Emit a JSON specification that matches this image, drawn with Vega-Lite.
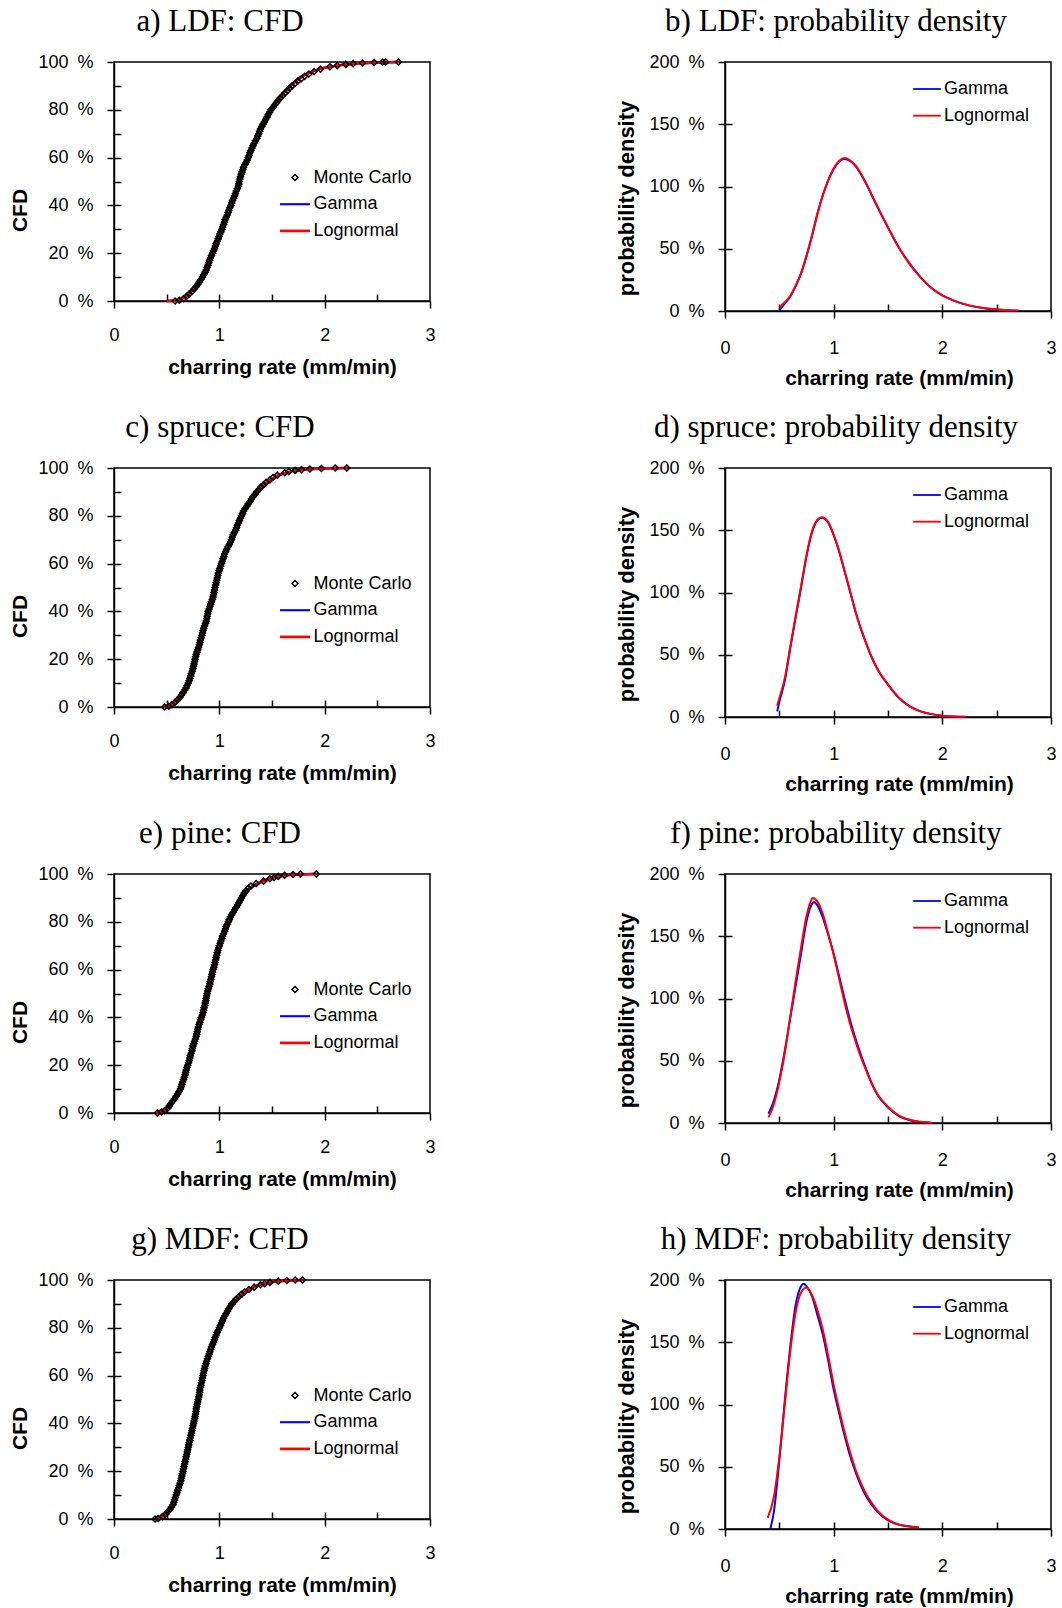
{
"$schema":"https://vega.github.io/schema/vega-lite/v6.json",
"autosize":{"type":"none"},
"padding":{"left":114,"top":62,"right":948,"bottom":1546},
"background":"white",
"columns":2,"bounds":"flush","align":"each",
"spacing":{"row":157,"column":295},
"resolve":{"scale":{"color":"independent","shape":"independent","strokeWidth":"independent"},"legend":{"color":"independent","shape":"independent","strokeWidth":"independent"}},
"config":{
 "view":{"stroke":"black","strokeWidth":1.5},
 "font":"Liberation Sans",
 "axis":{"domainColor":"black","domainWidth":1.5,"tickColor":"black","tickWidth":1.5,"labelColor":"black","labelFont":"Liberation Sans","labelFontSize":18,"titleFont":"Liberation Sans","titleFontSize":21,"titleFontWeight":"bold","titleColor":"black","grid":false,"labelFlush":false,"labelOverlap":false},
 "title":{"font":"Liberation Serif","fontSize":31,"fontWeight":"normal","color":"black","anchor":"middle","frame":"group","dx":-52,"baseline":"alphabetic","offset":15},
 "legend":{"labelFont":"Liberation Sans","labelFontSize":18,"labelColor":"black","padding":0}
},
"datasets":{
"aLine":[
{"s":"Gamma","x":0.5,"y":0},{"s":"Gamma","x":0.6,"y":0.3},{"s":"Gamma","x":0.7,"y":2.5},{"s":"Gamma","x":0.8,"y":7.5},{"s":"Gamma","x":0.9,"y":16.5},{"s":"Gamma","x":1.0,"y":27},{"s":"Gamma","x":1.1,"y":39},{"s":"Gamma","x":1.2,"y":51},{"s":"Gamma","x":1.3,"y":62.5},{"s":"Gamma","x":1.4,"y":72.5},{"s":"Gamma","x":1.5,"y":80.5},{"s":"Gamma","x":1.6,"y":86.5},{"s":"Gamma","x":1.7,"y":91},{"s":"Gamma","x":1.8,"y":94.3},{"s":"Gamma","x":1.9,"y":96.3},{"s":"Gamma","x":2.0,"y":97.6},{"s":"Gamma","x":2.2,"y":99},{"s":"Gamma","x":2.4,"y":99.6},{"s":"Gamma","x":2.7,"y":100},
{"s":"Lognormal","x":0.5,"y":0},{"s":"Lognormal","x":0.6,"y":0.3},{"s":"Lognormal","x":0.7,"y":2.5},{"s":"Lognormal","x":0.8,"y":7.5},{"s":"Lognormal","x":0.9,"y":16.5},{"s":"Lognormal","x":1.0,"y":27},{"s":"Lognormal","x":1.1,"y":39},{"s":"Lognormal","x":1.2,"y":51},{"s":"Lognormal","x":1.3,"y":62.5},{"s":"Lognormal","x":1.4,"y":72.5},{"s":"Lognormal","x":1.5,"y":80.5},{"s":"Lognormal","x":1.6,"y":86.5},{"s":"Lognormal","x":1.7,"y":91},{"s":"Lognormal","x":1.8,"y":94.3},{"s":"Lognormal","x":1.9,"y":96.3},{"s":"Lognormal","x":2.0,"y":97.6},{"s":"Lognormal","x":2.2,"y":99},{"s":"Lognormal","x":2.4,"y":99.6},{"s":"Lognormal","x":2.7,"y":100}],
"aMC":[
{"s":"Monte Carlo","x":0.58,"y":0},{"s":"Monte Carlo","x":0.62,"y":0.3},{"s":"Monte Carlo","x":0.66,"y":1},{"s":"Monte Carlo","x":0.69,"y":2},{"s":"Monte Carlo","x":0.715,"y":3},{"s":"Monte Carlo","x":0.74,"y":4},{"s":"Monte Carlo","x":0.76,"y":5},{"s":"Monte Carlo","x":0.78,"y":6},{"s":"Monte Carlo","x":0.795,"y":7},{"s":"Monte Carlo","x":0.81,"y":8},{"s":"Monte Carlo","x":0.825,"y":9},{"s":"Monte Carlo","x":0.84,"y":10},{"s":"Monte Carlo","x":0.853,"y":11},{"s":"Monte Carlo","x":0.865,"y":12},{"s":"Monte Carlo","x":0.875,"y":13},{"s":"Monte Carlo","x":0.885,"y":14},{"s":"Monte Carlo","x":0.893,"y":15},{"s":"Monte Carlo","x":0.9,"y":16},{"s":"Monte Carlo","x":0.908,"y":17},{"s":"Monte Carlo","x":0.915,"y":18},{"s":"Monte Carlo","x":0.925,"y":19},{"s":"Monte Carlo","x":0.935,"y":20},{"s":"Monte Carlo","x":0.945,"y":21},{"s":"Monte Carlo","x":0.955,"y":22},{"s":"Monte Carlo","x":0.962,"y":23},{"s":"Monte Carlo","x":0.97,"y":24},{"s":"Monte Carlo","x":0.98,"y":25},{"s":"Monte Carlo","x":0.99,"y":26},{"s":"Monte Carlo","x":0.998,"y":27},{"s":"Monte Carlo","x":1.005,"y":28},{"s":"Monte Carlo","x":1.015,"y":29},{"s":"Monte Carlo","x":1.025,"y":30},{"s":"Monte Carlo","x":1.032,"y":31},{"s":"Monte Carlo","x":1.04,"y":32},{"s":"Monte Carlo","x":1.048,"y":33},{"s":"Monte Carlo","x":1.055,"y":34},{"s":"Monte Carlo","x":1.065,"y":35},{"s":"Monte Carlo","x":1.075,"y":36},{"s":"Monte Carlo","x":1.083,"y":37},{"s":"Monte Carlo","x":1.09,"y":38},{"s":"Monte Carlo","x":1.1,"y":39},{"s":"Monte Carlo","x":1.11,"y":40},{"s":"Monte Carlo","x":1.118,"y":41},{"s":"Monte Carlo","x":1.125,"y":42},{"s":"Monte Carlo","x":1.135,"y":43},{"s":"Monte Carlo","x":1.145,"y":44},{"s":"Monte Carlo","x":1.153,"y":45},{"s":"Monte Carlo","x":1.16,"y":46},{"s":"Monte Carlo","x":1.17,"y":47},{"s":"Monte Carlo","x":1.18,"y":48},{"s":"Monte Carlo","x":1.185,"y":49},{"s":"Monte Carlo","x":1.19,"y":50},{"s":"Monte Carlo","x":1.195,"y":51},{"s":"Monte Carlo","x":1.2,"y":52},{"s":"Monte Carlo","x":1.208,"y":53},{"s":"Monte Carlo","x":1.215,"y":54},{"s":"Monte Carlo","x":1.222,"y":55},{"s":"Monte Carlo","x":1.23,"y":56},{"s":"Monte Carlo","x":1.243,"y":57},{"s":"Monte Carlo","x":1.255,"y":58},{"s":"Monte Carlo","x":1.265,"y":59},{"s":"Monte Carlo","x":1.275,"y":60},{"s":"Monte Carlo","x":1.283,"y":61},{"s":"Monte Carlo","x":1.29,"y":62},{"s":"Monte Carlo","x":1.3,"y":63},{"s":"Monte Carlo","x":1.31,"y":64},{"s":"Monte Carlo","x":1.32,"y":65},{"s":"Monte Carlo","x":1.33,"y":66},{"s":"Monte Carlo","x":1.343,"y":67},{"s":"Monte Carlo","x":1.355,"y":68},{"s":"Monte Carlo","x":1.365,"y":69},{"s":"Monte Carlo","x":1.375,"y":70},{"s":"Monte Carlo","x":1.383,"y":71},{"s":"Monte Carlo","x":1.39,"y":72},{"s":"Monte Carlo","x":1.403,"y":73},{"s":"Monte Carlo","x":1.415,"y":74},{"s":"Monte Carlo","x":1.428,"y":75},{"s":"Monte Carlo","x":1.44,"y":76},{"s":"Monte Carlo","x":1.453,"y":77},{"s":"Monte Carlo","x":1.465,"y":78},{"s":"Monte Carlo","x":1.478,"y":79},{"s":"Monte Carlo","x":1.49,"y":80},{"s":"Monte Carlo","x":1.508,"y":81},{"s":"Monte Carlo","x":1.525,"y":82},{"s":"Monte Carlo","x":1.543,"y":83},{"s":"Monte Carlo","x":1.56,"y":84},{"s":"Monte Carlo","x":1.58,"y":85},{"s":"Monte Carlo","x":1.6,"y":86},{"s":"Monte Carlo","x":1.623,"y":87},{"s":"Monte Carlo","x":1.645,"y":88},{"s":"Monte Carlo","x":1.668,"y":89},{"s":"Monte Carlo","x":1.69,"y":90},{"s":"Monte Carlo","x":1.718,"y":91},{"s":"Monte Carlo","x":1.745,"y":92},{"s":"Monte Carlo","x":1.778,"y":93},{"s":"Monte Carlo","x":1.81,"y":94},{"s":"Monte Carlo","x":1.85,"y":95},{"s":"Monte Carlo","x":1.9,"y":96},{"s":"Monte Carlo","x":1.96,"y":97},{"s":"Monte Carlo","x":2.05,"y":98},{"s":"Monte Carlo","x":2.12,"y":98.5},{"s":"Monte Carlo","x":2.2,"y":99},{"s":"Monte Carlo","x":2.27,"y":99.3},{"s":"Monte Carlo","x":2.36,"y":99.6},{"s":"Monte Carlo","x":2.47,"y":99.8},{"s":"Monte Carlo","x":2.55,"y":99.9},{"s":"Monte Carlo","x":2.58,"y":100},{"s":"Monte Carlo","x":2.7,"y":100}],
"cLine":[
{"s":"Gamma","x":0.47,"y":0},{"s":"Gamma","x":0.55,"y":1},{"s":"Gamma","x":0.6,"y":2.8},{"s":"Gamma","x":0.65,"y":5.5},{"s":"Gamma","x":0.7,"y":9.8},{"s":"Gamma","x":0.75,"y":15.5},{"s":"Gamma","x":0.8,"y":24.5},{"s":"Gamma","x":0.85,"y":31.5},{"s":"Gamma","x":0.9,"y":40.5},{"s":"Gamma","x":0.95,"y":48.5},{"s":"Gamma","x":1.0,"y":57},{"s":"Gamma","x":1.1,"y":68.5},{"s":"Gamma","x":1.2,"y":79},{"s":"Gamma","x":1.3,"y":87},{"s":"Gamma","x":1.4,"y":92.2},{"s":"Gamma","x":1.5,"y":95.5},{"s":"Gamma","x":1.6,"y":97.6},{"s":"Gamma","x":1.7,"y":98.8},{"s":"Gamma","x":1.85,"y":99.5},{"s":"Gamma","x":2.0,"y":99.8},{"s":"Gamma","x":2.21,"y":100},
{"s":"Lognormal","x":0.47,"y":0},{"s":"Lognormal","x":0.55,"y":1},{"s":"Lognormal","x":0.6,"y":2.8},{"s":"Lognormal","x":0.65,"y":5.5},{"s":"Lognormal","x":0.7,"y":9.8},{"s":"Lognormal","x":0.75,"y":15.5},{"s":"Lognormal","x":0.8,"y":24.5},{"s":"Lognormal","x":0.85,"y":31.5},{"s":"Lognormal","x":0.9,"y":40.5},{"s":"Lognormal","x":0.95,"y":48.5},{"s":"Lognormal","x":1.0,"y":57},{"s":"Lognormal","x":1.1,"y":68.5},{"s":"Lognormal","x":1.2,"y":79},{"s":"Lognormal","x":1.3,"y":87},{"s":"Lognormal","x":1.4,"y":92.2},{"s":"Lognormal","x":1.5,"y":95.5},{"s":"Lognormal","x":1.6,"y":97.6},{"s":"Lognormal","x":1.7,"y":98.8},{"s":"Lognormal","x":1.85,"y":99.5},{"s":"Lognormal","x":2.0,"y":99.8},{"s":"Lognormal","x":2.21,"y":100}],
"cMC":[
{"s":"Monte Carlo","x":0.48,"y":0},{"s":"Monte Carlo","x":0.52,"y":0.3},{"s":"Monte Carlo","x":0.55,"y":1},{"s":"Monte Carlo","x":0.58,"y":2},{"s":"Monte Carlo","x":0.603,"y":3},{"s":"Monte Carlo","x":0.625,"y":4},{"s":"Monte Carlo","x":0.64,"y":5},{"s":"Monte Carlo","x":0.655,"y":6},{"s":"Monte Carlo","x":0.67,"y":7},{"s":"Monte Carlo","x":0.685,"y":8},{"s":"Monte Carlo","x":0.695,"y":9},{"s":"Monte Carlo","x":0.705,"y":10},{"s":"Monte Carlo","x":0.713,"y":11},{"s":"Monte Carlo","x":0.72,"y":12},{"s":"Monte Carlo","x":0.728,"y":13},{"s":"Monte Carlo","x":0.735,"y":14},{"s":"Monte Carlo","x":0.743,"y":15},{"s":"Monte Carlo","x":0.75,"y":16},{"s":"Monte Carlo","x":0.755,"y":17},{"s":"Monte Carlo","x":0.76,"y":18},{"s":"Monte Carlo","x":0.765,"y":19},{"s":"Monte Carlo","x":0.77,"y":20},{"s":"Monte Carlo","x":0.775,"y":21},{"s":"Monte Carlo","x":0.78,"y":22},{"s":"Monte Carlo","x":0.788,"y":23},{"s":"Monte Carlo","x":0.795,"y":24},{"s":"Monte Carlo","x":0.803,"y":25},{"s":"Monte Carlo","x":0.81,"y":26},{"s":"Monte Carlo","x":0.815,"y":27},{"s":"Monte Carlo","x":0.82,"y":28},{"s":"Monte Carlo","x":0.828,"y":29},{"s":"Monte Carlo","x":0.835,"y":30},{"s":"Monte Carlo","x":0.84,"y":31},{"s":"Monte Carlo","x":0.845,"y":32},{"s":"Monte Carlo","x":0.853,"y":33},{"s":"Monte Carlo","x":0.86,"y":34},{"s":"Monte Carlo","x":0.868,"y":35},{"s":"Monte Carlo","x":0.875,"y":36},{"s":"Monte Carlo","x":0.88,"y":37},{"s":"Monte Carlo","x":0.885,"y":38},{"s":"Monte Carlo","x":0.89,"y":39},{"s":"Monte Carlo","x":0.895,"y":40},{"s":"Monte Carlo","x":0.903,"y":41},{"s":"Monte Carlo","x":0.91,"y":42},{"s":"Monte Carlo","x":0.918,"y":43},{"s":"Monte Carlo","x":0.925,"y":44},{"s":"Monte Carlo","x":0.933,"y":45},{"s":"Monte Carlo","x":0.94,"y":46},{"s":"Monte Carlo","x":0.945,"y":47},{"s":"Monte Carlo","x":0.95,"y":48},{"s":"Monte Carlo","x":0.955,"y":49},{"s":"Monte Carlo","x":0.96,"y":50},{"s":"Monte Carlo","x":0.965,"y":51},{"s":"Monte Carlo","x":0.97,"y":52},{"s":"Monte Carlo","x":0.975,"y":53},{"s":"Monte Carlo","x":0.98,"y":54},{"s":"Monte Carlo","x":0.985,"y":55},{"s":"Monte Carlo","x":0.99,"y":56},{"s":"Monte Carlo","x":0.998,"y":57},{"s":"Monte Carlo","x":1.005,"y":58},{"s":"Monte Carlo","x":1.013,"y":59},{"s":"Monte Carlo","x":1.02,"y":60},{"s":"Monte Carlo","x":1.028,"y":61},{"s":"Monte Carlo","x":1.035,"y":62},{"s":"Monte Carlo","x":1.043,"y":63},{"s":"Monte Carlo","x":1.05,"y":64},{"s":"Monte Carlo","x":1.06,"y":65},{"s":"Monte Carlo","x":1.07,"y":66},{"s":"Monte Carlo","x":1.083,"y":67},{"s":"Monte Carlo","x":1.095,"y":68},{"s":"Monte Carlo","x":1.105,"y":69},{"s":"Monte Carlo","x":1.115,"y":70},{"s":"Monte Carlo","x":1.123,"y":71},{"s":"Monte Carlo","x":1.13,"y":72},{"s":"Monte Carlo","x":1.143,"y":73},{"s":"Monte Carlo","x":1.155,"y":74},{"s":"Monte Carlo","x":1.163,"y":75},{"s":"Monte Carlo","x":1.17,"y":76},{"s":"Monte Carlo","x":1.18,"y":77},{"s":"Monte Carlo","x":1.19,"y":78},{"s":"Monte Carlo","x":1.2,"y":79},{"s":"Monte Carlo","x":1.21,"y":80},{"s":"Monte Carlo","x":1.22,"y":81},{"s":"Monte Carlo","x":1.23,"y":82},{"s":"Monte Carlo","x":1.245,"y":83},{"s":"Monte Carlo","x":1.26,"y":84},{"s":"Monte Carlo","x":1.275,"y":85},{"s":"Monte Carlo","x":1.29,"y":86},{"s":"Monte Carlo","x":1.305,"y":87},{"s":"Monte Carlo","x":1.32,"y":88},{"s":"Monte Carlo","x":1.338,"y":89},{"s":"Monte Carlo","x":1.355,"y":90},{"s":"Monte Carlo","x":1.375,"y":91},{"s":"Monte Carlo","x":1.395,"y":92},{"s":"Monte Carlo","x":1.42,"y":93},{"s":"Monte Carlo","x":1.445,"y":94},{"s":"Monte Carlo","x":1.48,"y":95},{"s":"Monte Carlo","x":1.51,"y":96},{"s":"Monte Carlo","x":1.55,"y":97},{"s":"Monte Carlo","x":1.62,"y":98},{"s":"Monte Carlo","x":1.66,"y":98.5},{"s":"Monte Carlo","x":1.72,"y":99},{"s":"Monte Carlo","x":1.78,"y":99.3},{"s":"Monte Carlo","x":1.86,"y":99.6},{"s":"Monte Carlo","x":1.97,"y":99.8},{"s":"Monte Carlo","x":2.1,"y":100},{"s":"Monte Carlo","x":2.21,"y":100}],
"eLine":[
{"s":"Gamma","x":0.4,"y":0},{"s":"Gamma","x":0.45,"y":0.4},{"s":"Gamma","x":0.5,"y":1.8},{"s":"Gamma","x":0.55,"y":5},{"s":"Gamma","x":0.6,"y":8.5},{"s":"Gamma","x":0.65,"y":13.5},{"s":"Gamma","x":0.7,"y":20},{"s":"Gamma","x":0.75,"y":28.5},{"s":"Gamma","x":0.8,"y":36},{"s":"Gamma","x":0.85,"y":43},{"s":"Gamma","x":0.9,"y":52},{"s":"Gamma","x":0.95,"y":61},{"s":"Gamma","x":1.0,"y":70},{"s":"Gamma","x":1.05,"y":76.5},{"s":"Gamma","x":1.1,"y":81.5},{"s":"Gamma","x":1.15,"y":85.5},{"s":"Gamma","x":1.2,"y":89.5},{"s":"Gamma","x":1.25,"y":92.5},{"s":"Gamma","x":1.3,"y":94.5},{"s":"Gamma","x":1.4,"y":96.8},{"s":"Gamma","x":1.5,"y":98.3},{"s":"Gamma","x":1.6,"y":99.3},{"s":"Gamma","x":1.7,"y":99.7},{"s":"Gamma","x":1.9,"y":100},
{"s":"Lognormal","x":0.4,"y":0},{"s":"Lognormal","x":0.45,"y":0.4},{"s":"Lognormal","x":0.5,"y":1.8},{"s":"Lognormal","x":0.55,"y":5},{"s":"Lognormal","x":0.6,"y":8.5},{"s":"Lognormal","x":0.65,"y":13.5},{"s":"Lognormal","x":0.7,"y":20},{"s":"Lognormal","x":0.75,"y":28.5},{"s":"Lognormal","x":0.8,"y":36},{"s":"Lognormal","x":0.85,"y":43},{"s":"Lognormal","x":0.9,"y":52},{"s":"Lognormal","x":0.95,"y":61},{"s":"Lognormal","x":1.0,"y":70},{"s":"Lognormal","x":1.05,"y":76.5},{"s":"Lognormal","x":1.1,"y":81.5},{"s":"Lognormal","x":1.15,"y":85.5},{"s":"Lognormal","x":1.2,"y":89},{"s":"Lognormal","x":1.25,"y":92},{"s":"Lognormal","x":1.3,"y":94.2},{"s":"Lognormal","x":1.4,"y":96.6},{"s":"Lognormal","x":1.5,"y":98.2},{"s":"Lognormal","x":1.6,"y":99.2},{"s":"Lognormal","x":1.7,"y":99.7},{"s":"Lognormal","x":1.9,"y":100}],
"eMC":[
{"s":"Monte Carlo","x":0.41,"y":0},{"s":"Monte Carlo","x":0.45,"y":0.4},{"s":"Monte Carlo","x":0.48,"y":1},{"s":"Monte Carlo","x":0.51,"y":2},{"s":"Monte Carlo","x":0.525,"y":3},{"s":"Monte Carlo","x":0.54,"y":4},{"s":"Monte Carlo","x":0.558,"y":5},{"s":"Monte Carlo","x":0.575,"y":6},{"s":"Monte Carlo","x":0.59,"y":7},{"s":"Monte Carlo","x":0.605,"y":8},{"s":"Monte Carlo","x":0.618,"y":9},{"s":"Monte Carlo","x":0.63,"y":10},{"s":"Monte Carlo","x":0.638,"y":11},{"s":"Monte Carlo","x":0.645,"y":12},{"s":"Monte Carlo","x":0.653,"y":13},{"s":"Monte Carlo","x":0.66,"y":14},{"s":"Monte Carlo","x":0.668,"y":15},{"s":"Monte Carlo","x":0.675,"y":16},{"s":"Monte Carlo","x":0.68,"y":17},{"s":"Monte Carlo","x":0.685,"y":18},{"s":"Monte Carlo","x":0.693,"y":19},{"s":"Monte Carlo","x":0.7,"y":20},{"s":"Monte Carlo","x":0.708,"y":21},{"s":"Monte Carlo","x":0.715,"y":22},{"s":"Monte Carlo","x":0.72,"y":23},{"s":"Monte Carlo","x":0.725,"y":24},{"s":"Monte Carlo","x":0.733,"y":25},{"s":"Monte Carlo","x":0.74,"y":26},{"s":"Monte Carlo","x":0.745,"y":27},{"s":"Monte Carlo","x":0.75,"y":28},{"s":"Monte Carlo","x":0.758,"y":29},{"s":"Monte Carlo","x":0.765,"y":30},{"s":"Monte Carlo","x":0.773,"y":31},{"s":"Monte Carlo","x":0.78,"y":32},{"s":"Monte Carlo","x":0.785,"y":33},{"s":"Monte Carlo","x":0.79,"y":34},{"s":"Monte Carlo","x":0.795,"y":35},{"s":"Monte Carlo","x":0.8,"y":36},{"s":"Monte Carlo","x":0.808,"y":37},{"s":"Monte Carlo","x":0.815,"y":38},{"s":"Monte Carlo","x":0.823,"y":39},{"s":"Monte Carlo","x":0.83,"y":40},{"s":"Monte Carlo","x":0.838,"y":41},{"s":"Monte Carlo","x":0.845,"y":42},{"s":"Monte Carlo","x":0.85,"y":43},{"s":"Monte Carlo","x":0.855,"y":44},{"s":"Monte Carlo","x":0.86,"y":45},{"s":"Monte Carlo","x":0.865,"y":46},{"s":"Monte Carlo","x":0.87,"y":47},{"s":"Monte Carlo","x":0.875,"y":48},{"s":"Monte Carlo","x":0.88,"y":49},{"s":"Monte Carlo","x":0.885,"y":50},{"s":"Monte Carlo","x":0.89,"y":51},{"s":"Monte Carlo","x":0.895,"y":52},{"s":"Monte Carlo","x":0.903,"y":53},{"s":"Monte Carlo","x":0.91,"y":54},{"s":"Monte Carlo","x":0.915,"y":55},{"s":"Monte Carlo","x":0.92,"y":56},{"s":"Monte Carlo","x":0.925,"y":57},{"s":"Monte Carlo","x":0.93,"y":58},{"s":"Monte Carlo","x":0.935,"y":59},{"s":"Monte Carlo","x":0.94,"y":60},{"s":"Monte Carlo","x":0.948,"y":61},{"s":"Monte Carlo","x":0.955,"y":62},{"s":"Monte Carlo","x":0.96,"y":63},{"s":"Monte Carlo","x":0.965,"y":64},{"s":"Monte Carlo","x":0.97,"y":65},{"s":"Monte Carlo","x":0.975,"y":66},{"s":"Monte Carlo","x":0.98,"y":67},{"s":"Monte Carlo","x":0.985,"y":68},{"s":"Monte Carlo","x":0.993,"y":69},{"s":"Monte Carlo","x":1.0,"y":70},{"s":"Monte Carlo","x":1.008,"y":71},{"s":"Monte Carlo","x":1.015,"y":72},{"s":"Monte Carlo","x":1.023,"y":73},{"s":"Monte Carlo","x":1.03,"y":74},{"s":"Monte Carlo","x":1.04,"y":75},{"s":"Monte Carlo","x":1.05,"y":76},{"s":"Monte Carlo","x":1.058,"y":77},{"s":"Monte Carlo","x":1.065,"y":78},{"s":"Monte Carlo","x":1.075,"y":79},{"s":"Monte Carlo","x":1.085,"y":80},{"s":"Monte Carlo","x":1.095,"y":81},{"s":"Monte Carlo","x":1.105,"y":82},{"s":"Monte Carlo","x":1.118,"y":83},{"s":"Monte Carlo","x":1.13,"y":84},{"s":"Monte Carlo","x":1.145,"y":85},{"s":"Monte Carlo","x":1.16,"y":86},{"s":"Monte Carlo","x":1.173,"y":87},{"s":"Monte Carlo","x":1.185,"y":88},{"s":"Monte Carlo","x":1.198,"y":89},{"s":"Monte Carlo","x":1.21,"y":90},{"s":"Monte Carlo","x":1.223,"y":91},{"s":"Monte Carlo","x":1.235,"y":92},{"s":"Monte Carlo","x":1.255,"y":93},{"s":"Monte Carlo","x":1.275,"y":94},{"s":"Monte Carlo","x":1.3,"y":95},{"s":"Monte Carlo","x":1.35,"y":96},{"s":"Monte Carlo","x":1.42,"y":97},{"s":"Monte Carlo","x":1.48,"y":98},{"s":"Monte Carlo","x":1.52,"y":98.5},{"s":"Monte Carlo","x":1.56,"y":99},{"s":"Monte Carlo","x":1.62,"y":99.5},{"s":"Monte Carlo","x":1.7,"y":99.8},{"s":"Monte Carlo","x":1.77,"y":100},{"s":"Monte Carlo","x":1.92,"y":100}],
"gLine":[
{"s":"Gamma","x":0.39,"y":0},{"s":"Gamma","x":0.45,"y":0.8},{"s":"Gamma","x":0.5,"y":2.5},{"s":"Gamma","x":0.55,"y":5.5},{"s":"Gamma","x":0.6,"y":11},{"s":"Gamma","x":0.65,"y":19},{"s":"Gamma","x":0.7,"y":28},{"s":"Gamma","x":0.75,"y":38.5},{"s":"Gamma","x":0.8,"y":50},{"s":"Gamma","x":0.85,"y":60.5},{"s":"Gamma","x":0.9,"y":67.5},{"s":"Gamma","x":0.95,"y":74},{"s":"Gamma","x":1.0,"y":80},{"s":"Gamma","x":1.05,"y":85},{"s":"Gamma","x":1.1,"y":88.7},{"s":"Gamma","x":1.2,"y":93.5},{"s":"Gamma","x":1.3,"y":96.5},{"s":"Gamma","x":1.4,"y":98.2},{"s":"Gamma","x":1.5,"y":99.1},{"s":"Gamma","x":1.6,"y":99.6},{"s":"Gamma","x":1.79,"y":100},
{"s":"Lognormal","x":0.39,"y":0},{"s":"Lognormal","x":0.45,"y":0.8},{"s":"Lognormal","x":0.5,"y":2.5},{"s":"Lognormal","x":0.55,"y":5.5},{"s":"Lognormal","x":0.6,"y":11},{"s":"Lognormal","x":0.65,"y":19},{"s":"Lognormal","x":0.7,"y":28},{"s":"Lognormal","x":0.75,"y":38.5},{"s":"Lognormal","x":0.8,"y":50},{"s":"Lognormal","x":0.85,"y":60.5},{"s":"Lognormal","x":0.9,"y":67.5},{"s":"Lognormal","x":0.95,"y":74},{"s":"Lognormal","x":1.0,"y":80},{"s":"Lognormal","x":1.05,"y":85},{"s":"Lognormal","x":1.1,"y":88.7},{"s":"Lognormal","x":1.2,"y":93.5},{"s":"Lognormal","x":1.3,"y":96.5},{"s":"Lognormal","x":1.4,"y":98.2},{"s":"Lognormal","x":1.5,"y":99.1},{"s":"Lognormal","x":1.6,"y":99.6},{"s":"Lognormal","x":1.79,"y":100}],
"gMC":[
{"s":"Monte Carlo","x":0.39,"y":0},{"s":"Monte Carlo","x":0.42,"y":0.2},{"s":"Monte Carlo","x":0.46,"y":1},{"s":"Monte Carlo","x":0.49,"y":2},{"s":"Monte Carlo","x":0.51,"y":3},{"s":"Monte Carlo","x":0.53,"y":4},{"s":"Monte Carlo","x":0.545,"y":5},{"s":"Monte Carlo","x":0.56,"y":6},{"s":"Monte Carlo","x":0.568,"y":7},{"s":"Monte Carlo","x":0.575,"y":8},{"s":"Monte Carlo","x":0.583,"y":9},{"s":"Monte Carlo","x":0.59,"y":10},{"s":"Monte Carlo","x":0.598,"y":11},{"s":"Monte Carlo","x":0.605,"y":12},{"s":"Monte Carlo","x":0.613,"y":13},{"s":"Monte Carlo","x":0.62,"y":14},{"s":"Monte Carlo","x":0.628,"y":15},{"s":"Monte Carlo","x":0.635,"y":16},{"s":"Monte Carlo","x":0.64,"y":17},{"s":"Monte Carlo","x":0.645,"y":18},{"s":"Monte Carlo","x":0.65,"y":19},{"s":"Monte Carlo","x":0.655,"y":20},{"s":"Monte Carlo","x":0.66,"y":21},{"s":"Monte Carlo","x":0.665,"y":22},{"s":"Monte Carlo","x":0.67,"y":23},{"s":"Monte Carlo","x":0.675,"y":24},{"s":"Monte Carlo","x":0.68,"y":25},{"s":"Monte Carlo","x":0.685,"y":26},{"s":"Monte Carlo","x":0.69,"y":27},{"s":"Monte Carlo","x":0.695,"y":28},{"s":"Monte Carlo","x":0.7,"y":29},{"s":"Monte Carlo","x":0.705,"y":30},{"s":"Monte Carlo","x":0.71,"y":31},{"s":"Monte Carlo","x":0.715,"y":32},{"s":"Monte Carlo","x":0.72,"y":33},{"s":"Monte Carlo","x":0.725,"y":34},{"s":"Monte Carlo","x":0.73,"y":35},{"s":"Monte Carlo","x":0.735,"y":36},{"s":"Monte Carlo","x":0.74,"y":37},{"s":"Monte Carlo","x":0.745,"y":38},{"s":"Monte Carlo","x":0.75,"y":39},{"s":"Monte Carlo","x":0.755,"y":40},{"s":"Monte Carlo","x":0.76,"y":41},{"s":"Monte Carlo","x":0.765,"y":42},{"s":"Monte Carlo","x":0.77,"y":43},{"s":"Monte Carlo","x":0.775,"y":44},{"s":"Monte Carlo","x":0.778,"y":45},{"s":"Monte Carlo","x":0.78,"y":46},{"s":"Monte Carlo","x":0.785,"y":47},{"s":"Monte Carlo","x":0.79,"y":48},{"s":"Monte Carlo","x":0.795,"y":49},{"s":"Monte Carlo","x":0.8,"y":50},{"s":"Monte Carlo","x":0.805,"y":51},{"s":"Monte Carlo","x":0.81,"y":52},{"s":"Monte Carlo","x":0.813,"y":53},{"s":"Monte Carlo","x":0.815,"y":54},{"s":"Monte Carlo","x":0.82,"y":55},{"s":"Monte Carlo","x":0.825,"y":56},{"s":"Monte Carlo","x":0.83,"y":57},{"s":"Monte Carlo","x":0.835,"y":58},{"s":"Monte Carlo","x":0.84,"y":59},{"s":"Monte Carlo","x":0.845,"y":60},{"s":"Monte Carlo","x":0.85,"y":61},{"s":"Monte Carlo","x":0.855,"y":62},{"s":"Monte Carlo","x":0.86,"y":63},{"s":"Monte Carlo","x":0.865,"y":64},{"s":"Monte Carlo","x":0.873,"y":65},{"s":"Monte Carlo","x":0.88,"y":66},{"s":"Monte Carlo","x":0.888,"y":67},{"s":"Monte Carlo","x":0.895,"y":68},{"s":"Monte Carlo","x":0.903,"y":69},{"s":"Monte Carlo","x":0.91,"y":70},{"s":"Monte Carlo","x":0.918,"y":71},{"s":"Monte Carlo","x":0.925,"y":72},{"s":"Monte Carlo","x":0.935,"y":73},{"s":"Monte Carlo","x":0.945,"y":74},{"s":"Monte Carlo","x":0.953,"y":75},{"s":"Monte Carlo","x":0.96,"y":76},{"s":"Monte Carlo","x":0.97,"y":77},{"s":"Monte Carlo","x":0.98,"y":78},{"s":"Monte Carlo","x":0.99,"y":79},{"s":"Monte Carlo","x":1.0,"y":80},{"s":"Monte Carlo","x":1.01,"y":81},{"s":"Monte Carlo","x":1.02,"y":82},{"s":"Monte Carlo","x":1.03,"y":83},{"s":"Monte Carlo","x":1.04,"y":84},{"s":"Monte Carlo","x":1.053,"y":85},{"s":"Monte Carlo","x":1.065,"y":86},{"s":"Monte Carlo","x":1.078,"y":87},{"s":"Monte Carlo","x":1.09,"y":88},{"s":"Monte Carlo","x":1.105,"y":89},{"s":"Monte Carlo","x":1.12,"y":90},{"s":"Monte Carlo","x":1.14,"y":91},{"s":"Monte Carlo","x":1.16,"y":92},{"s":"Monte Carlo","x":1.185,"y":93},{"s":"Monte Carlo","x":1.21,"y":94},{"s":"Monte Carlo","x":1.24,"y":95},{"s":"Monte Carlo","x":1.28,"y":96},{"s":"Monte Carlo","x":1.33,"y":97},{"s":"Monte Carlo","x":1.39,"y":98},{"s":"Monte Carlo","x":1.43,"y":98.5},{"s":"Monte Carlo","x":1.48,"y":99},{"s":"Monte Carlo","x":1.56,"y":99.5},{"s":"Monte Carlo","x":1.64,"y":99.8},{"s":"Monte Carlo","x":1.72,"y":100},{"s":"Monte Carlo","x":1.79,"y":100}],
"bG":[{"s":"Gamma","x":0.5,"y":0.5},{"s":"Gamma","x":0.55,"y":6},{"s":"Gamma","x":0.6,"y":11.5},{"s":"Gamma","x":0.65,"y":20},{"s":"Gamma","x":0.7,"y":30},{"s":"Gamma","x":0.75,"y":44},{"s":"Gamma","x":0.8,"y":60},{"s":"Gamma","x":0.85,"y":78},{"s":"Gamma","x":0.9,"y":93},{"s":"Gamma","x":0.95,"y":105},{"s":"Gamma","x":1.0,"y":114},{"s":"Gamma","x":1.05,"y":120},{"s":"Gamma","x":1.1,"y":122},{"s":"Gamma","x":1.15,"y":120.5},{"s":"Gamma","x":1.2,"y":116.5},{"s":"Gamma","x":1.25,"y":110},{"s":"Gamma","x":1.3,"y":102},{"s":"Gamma","x":1.35,"y":93},{"s":"Gamma","x":1.4,"y":84},{"s":"Gamma","x":1.5,"y":67},{"s":"Gamma","x":1.6,"y":51},{"s":"Gamma","x":1.7,"y":38},{"s":"Gamma","x":1.8,"y":27},{"s":"Gamma","x":1.9,"y":18.5},{"s":"Gamma","x":2.0,"y":12.5},{"s":"Gamma","x":2.1,"y":8.5},{"s":"Gamma","x":2.2,"y":5.5},{"s":"Gamma","x":2.3,"y":3.5},{"s":"Gamma","x":2.4,"y":2},{"s":"Gamma","x":2.5,"y":1.2},{"s":"Gamma","x":2.6,"y":0.6},{"s":"Gamma","x":2.7,"y":0.2}],
"bL":[{"s":"Lognormal","x":0.5,"y":3},{"s":"Lognormal","x":0.55,"y":7},{"s":"Lognormal","x":0.6,"y":12},{"s":"Lognormal","x":0.65,"y":20.5},{"s":"Lognormal","x":0.7,"y":30.5},{"s":"Lognormal","x":0.75,"y":44.5},{"s":"Lognormal","x":0.8,"y":60.5},{"s":"Lognormal","x":0.85,"y":78},{"s":"Lognormal","x":0.9,"y":93},{"s":"Lognormal","x":0.95,"y":105},{"s":"Lognormal","x":1.0,"y":114.5},{"s":"Lognormal","x":1.05,"y":120.5},{"s":"Lognormal","x":1.1,"y":122.8},{"s":"Lognormal","x":1.15,"y":121},{"s":"Lognormal","x":1.2,"y":117},{"s":"Lognormal","x":1.25,"y":110.5},{"s":"Lognormal","x":1.3,"y":102.5},{"s":"Lognormal","x":1.35,"y":93.5},{"s":"Lognormal","x":1.4,"y":84.5},{"s":"Lognormal","x":1.5,"y":67},{"s":"Lognormal","x":1.6,"y":51},{"s":"Lognormal","x":1.7,"y":37.5},{"s":"Lognormal","x":1.8,"y":27},{"s":"Lognormal","x":1.9,"y":18.5},{"s":"Lognormal","x":2.0,"y":12.5},{"s":"Lognormal","x":2.1,"y":8.5},{"s":"Lognormal","x":2.2,"y":5.5},{"s":"Lognormal","x":2.3,"y":3.5},{"s":"Lognormal","x":2.4,"y":2.2},{"s":"Lognormal","x":2.5,"y":1.3},{"s":"Lognormal","x":2.6,"y":0.7},{"s":"Lognormal","x":2.7,"y":0.3}],
"dG":[{"s":"Gamma","x":0.48,"y":4.5},{"s":"Gamma","x":0.5,"y":12},{"s":"Gamma","x":0.55,"y":29},{"s":"Gamma","x":0.6,"y":55},{"s":"Gamma","x":0.65,"y":80},{"s":"Gamma","x":0.7,"y":104},{"s":"Gamma","x":0.75,"y":129},{"s":"Gamma","x":0.8,"y":148},{"s":"Gamma","x":0.85,"y":158},{"s":"Gamma","x":0.89,"y":160},{"s":"Gamma","x":0.95,"y":156},{"s":"Gamma","x":1.0,"y":146},{"s":"Gamma","x":1.05,"y":133},{"s":"Gamma","x":1.1,"y":117},{"s":"Gamma","x":1.15,"y":101},{"s":"Gamma","x":1.2,"y":85},{"s":"Gamma","x":1.25,"y":71},{"s":"Gamma","x":1.3,"y":59},{"s":"Gamma","x":1.35,"y":48},{"s":"Gamma","x":1.4,"y":39},{"s":"Gamma","x":1.5,"y":26},{"s":"Gamma","x":1.6,"y":15.5},{"s":"Gamma","x":1.7,"y":8.5},{"s":"Gamma","x":1.8,"y":4.5},{"s":"Gamma","x":1.9,"y":2.3},{"s":"Gamma","x":2.0,"y":1.1},{"s":"Gamma","x":2.1,"y":0.5},{"s":"Gamma","x":2.21,"y":0.2}],
"dL":[{"s":"Lognormal","x":0.48,"y":9},{"s":"Lognormal","x":0.5,"y":15},{"s":"Lognormal","x":0.55,"y":31},{"s":"Lognormal","x":0.6,"y":56},{"s":"Lognormal","x":0.65,"y":81},{"s":"Lognormal","x":0.7,"y":105},{"s":"Lognormal","x":0.75,"y":130},{"s":"Lognormal","x":0.8,"y":149},{"s":"Lognormal","x":0.85,"y":158.5},{"s":"Lognormal","x":0.89,"y":160.5},{"s":"Lognormal","x":0.95,"y":156.5},{"s":"Lognormal","x":1.0,"y":146.5},{"s":"Lognormal","x":1.05,"y":133.5},{"s":"Lognormal","x":1.1,"y":117.5},{"s":"Lognormal","x":1.15,"y":101.5},{"s":"Lognormal","x":1.2,"y":85},{"s":"Lognormal","x":1.25,"y":71},{"s":"Lognormal","x":1.3,"y":59},{"s":"Lognormal","x":1.35,"y":48},{"s":"Lognormal","x":1.4,"y":39},{"s":"Lognormal","x":1.5,"y":26},{"s":"Lognormal","x":1.6,"y":15.5},{"s":"Lognormal","x":1.7,"y":8.5},{"s":"Lognormal","x":1.8,"y":4.5},{"s":"Lognormal","x":1.9,"y":2.3},{"s":"Lognormal","x":2.0,"y":1.1},{"s":"Lognormal","x":2.1,"y":0.5},{"s":"Lognormal","x":2.21,"y":0.2}],
"fG":[{"s":"Gamma","x":0.4,"y":7.5},{"s":"Gamma","x":0.45,"y":18},{"s":"Gamma","x":0.5,"y":35},{"s":"Gamma","x":0.55,"y":58},{"s":"Gamma","x":0.6,"y":84},{"s":"Gamma","x":0.65,"y":110},{"s":"Gamma","x":0.7,"y":136},{"s":"Gamma","x":0.75,"y":162},{"s":"Gamma","x":0.8,"y":176},{"s":"Gamma","x":0.82,"y":177.5},{"s":"Gamma","x":0.85,"y":175},{"s":"Gamma","x":0.9,"y":165},{"s":"Gamma","x":0.95,"y":151},{"s":"Gamma","x":1.0,"y":136},{"s":"Gamma","x":1.05,"y":118},{"s":"Gamma","x":1.1,"y":100},{"s":"Gamma","x":1.15,"y":83},{"s":"Gamma","x":1.2,"y":68},{"s":"Gamma","x":1.25,"y":55},{"s":"Gamma","x":1.3,"y":43},{"s":"Gamma","x":1.35,"y":32},{"s":"Gamma","x":1.4,"y":23},{"s":"Gamma","x":1.5,"y":12.5},{"s":"Gamma","x":1.6,"y":5.5},{"s":"Gamma","x":1.7,"y":2.2},{"s":"Gamma","x":1.8,"y":0.8},{"s":"Gamma","x":1.89,"y":0.2}],
"fL":[{"s":"Lognormal","x":0.4,"y":4.5},{"s":"Lognormal","x":0.45,"y":15},{"s":"Lognormal","x":0.5,"y":33},{"s":"Lognormal","x":0.55,"y":56},{"s":"Lognormal","x":0.6,"y":85},{"s":"Lognormal","x":0.65,"y":114},{"s":"Lognormal","x":0.7,"y":141},{"s":"Lognormal","x":0.75,"y":166},{"s":"Lognormal","x":0.8,"y":180},{"s":"Lognormal","x":0.81,"y":180.7},{"s":"Lognormal","x":0.85,"y":178},{"s":"Lognormal","x":0.9,"y":168},{"s":"Lognormal","x":0.95,"y":152},{"s":"Lognormal","x":1.0,"y":135},{"s":"Lognormal","x":1.05,"y":116},{"s":"Lognormal","x":1.1,"y":97},{"s":"Lognormal","x":1.15,"y":80},{"s":"Lognormal","x":1.2,"y":66},{"s":"Lognormal","x":1.25,"y":53},{"s":"Lognormal","x":1.3,"y":42},{"s":"Lognormal","x":1.35,"y":31.5},{"s":"Lognormal","x":1.4,"y":23.5},{"s":"Lognormal","x":1.5,"y":13},{"s":"Lognormal","x":1.6,"y":6},{"s":"Lognormal","x":1.7,"y":2.6},{"s":"Lognormal","x":1.8,"y":1},{"s":"Lognormal","x":1.91,"y":0.2}],
"hG":[{"s":"Gamma","x":0.417,"y":0},{"s":"Gamma","x":0.45,"y":14},{"s":"Gamma","x":0.5,"y":55},{"s":"Gamma","x":0.55,"y":103},{"s":"Gamma","x":0.6,"y":146},{"s":"Gamma","x":0.65,"y":180},{"s":"Gamma","x":0.7,"y":195},{"s":"Gamma","x":0.725,"y":197},{"s":"Gamma","x":0.75,"y":195},{"s":"Gamma","x":0.8,"y":187},{"s":"Gamma","x":0.85,"y":172},{"s":"Gamma","x":0.9,"y":156},{"s":"Gamma","x":0.95,"y":135},{"s":"Gamma","x":1.0,"y":112},{"s":"Gamma","x":1.05,"y":93},{"s":"Gamma","x":1.1,"y":75},{"s":"Gamma","x":1.15,"y":59},{"s":"Gamma","x":1.2,"y":46},{"s":"Gamma","x":1.25,"y":35},{"s":"Gamma","x":1.3,"y":26},{"s":"Gamma","x":1.35,"y":19.5},{"s":"Gamma","x":1.4,"y":14},{"s":"Gamma","x":1.5,"y":7},{"s":"Gamma","x":1.6,"y":3.5},{"s":"Gamma","x":1.7,"y":2},{"s":"Gamma","x":1.785,"y":1.3}],
"hL":[{"s":"Lognormal","x":0.393,"y":9},{"s":"Lognormal","x":0.45,"y":26},{"s":"Lognormal","x":0.5,"y":58},{"s":"Lognormal","x":0.55,"y":100},{"s":"Lognormal","x":0.6,"y":142},{"s":"Lognormal","x":0.65,"y":174},{"s":"Lognormal","x":0.7,"y":190},{"s":"Lognormal","x":0.75,"y":194},{"s":"Lognormal","x":0.8,"y":188},{"s":"Lognormal","x":0.85,"y":176},{"s":"Lognormal","x":0.9,"y":160},{"s":"Lognormal","x":0.95,"y":139},{"s":"Lognormal","x":1.0,"y":116},{"s":"Lognormal","x":1.05,"y":96},{"s":"Lognormal","x":1.1,"y":78},{"s":"Lognormal","x":1.15,"y":62},{"s":"Lognormal","x":1.2,"y":48},{"s":"Lognormal","x":1.25,"y":37},{"s":"Lognormal","x":1.3,"y":28},{"s":"Lognormal","x":1.35,"y":21},{"s":"Lognormal","x":1.4,"y":15},{"s":"Lognormal","x":1.5,"y":7.5},{"s":"Lognormal","x":1.6,"y":3.5},{"s":"Lognormal","x":1.7,"y":2},{"s":"Lognormal","x":1.785,"y":1.3}]
},
"concat":[
{"title":{"text":"a) LDF: CFD"},"width":316,"height":239,"resolve":{"axis":{"x":"independent","y":"independent"}},
 "layer":[
  {"data":{"name":"aLine"},"mark":{"type":"line","strokeWidth":2.5,"interpolate":"monotone"},
   "encoding":{
    "x":{"field":"x","type":"quantitative","scale":{"domain":[0,3],"nice":false},"axis":{"values":[0,1,2,3],"format":"d","tickSize":7,"labelPadding":18,"title":"charring rate (mm/min)","titleX":168,"titleY":72,"titleBaseline":"alphabetic","titleAlign":"center"}},
    "y":{"field":"y","type":"quantitative","scale":{"domain":[0,100],"nice":false},"axis":{"values":[0,20,40,60,80,100],"labelExpr":"datum.value + '\u2002%'","tickSize":7,"labelPadding":14,"title":"CFD","titleAngle":270,"titleX":-88,"titleY":148,"titleBaseline":"alphabetic","titleAlign":"center"}},
    "stroke":{"field":"s","type":"nominal","scale":{"domain":["Gamma","Lognormal"],"range":["#0000ff","#ff0000"]},"legend":null}}},
  {"data":{"name":"aMC"},"mark":{"type":"point","filled":false,"size":225,"opacity":1},
   "encoding":{
    "x":{"field":"x","type":"quantitative","scale":{"domain":[0,3],"nice":false},"axis":{"orient":"top","offset":-239,"values":[0.5,1,1.5,2,2.5],"tickSize":7,"labels":false,"domain":false,"title":null}},
    "y":{"field":"y","type":"quantitative","scale":{"domain":[0,100],"nice":false},"axis":{"orient":"right","offset":-316,"values":[10,20,30,40,50,60,70,80,90],"tickSize":7,"labels":false,"domain":false,"title":null}},
    "color":{"field":"s","type":"nominal","scale":{"domain":["Monte Carlo","Gamma","Lognormal"],"range":["#000000","#0000ff","#ff0000"]},"legend":{"orient":"none","legendX":172,"legendY":106.5,"title":null,"labelOffset":9.5,"symbolSize":225,"rowPadding":8.7}},
    "shape":{"field":"s","type":"nominal","scale":{"domain":["Monte Carlo","Gamma","Lognormal"],"range":["M-0.4,0L0,-0.4L0.4,0L0,0.4Z","M-2,0H2","M-2,0H2"]},"legend":{"orient":"none","legendX":172,"legendY":106.5,"title":null,"labelOffset":9.5,"symbolSize":225,"rowPadding":8.7}},
    "strokeWidth":{"field":"s","type":"nominal","scale":{"domain":["Monte Carlo","Gamma","Lognormal"],"range":[1.5,2.7,2.7]},"legend":{"orient":"none","legendX":172,"legendY":106.5,"title":null,"labelOffset":9.5,"symbolSize":225,"rowPadding":8.7}}}}
 ]},
{"title":{"text":"b) LDF: probability density"},"width":326,"height":249,"resolve":{"axis":{"x":"independent","y":"independent"}},
 "layer":[
  {"data":{"name":"bG"},"mark":{"type":"line","strokeWidth":2,"interpolate":"monotone"},
   "encoding":{
    "x":{"field":"x","type":"quantitative","scale":{"domain":[0,3],"nice":false},"axis":{"values":[0,1,2,3],"format":"d","tickSize":7,"labelPadding":21,"title":"charring rate (mm/min)","titleX":174,"titleY":73,"titleBaseline":"alphabetic","titleAlign":"center"}},
    "y":{"field":"y","type":"quantitative","scale":{"domain":[0,200],"nice":false},"axis":{"values":[0,50,100,150,200],"labelExpr":"datum.value + '\u2002%'","tickSize":7,"labelPadding":14,"title":"probability density","titleFontSize":22,"titleAngle":270,"titleX":-92,"titleY":136,"titleBaseline":"alphabetic","titleAlign":"center"}},
    "color":{"field":"s","type":"nominal","scale":{"domain":["Gamma","Lognormal"],"range":["#0000ff","#ff0000"]},"legend":{"orient":"none","legendX":193,"legendY":18,"title":null,"labelOffset":8,"symbolType":"M-1.84,0H1.84","symbolSize":225,"symbolStrokeWidth":1.8,"rowPadding":8.7}}}},
  {"data":{"name":"bL"},"mark":{"type":"line","strokeWidth":2,"interpolate":"monotone"},
   "encoding":{
    "x":{"field":"x","type":"quantitative","scale":{"domain":[0,3],"nice":false},"axis":{"orient":"top","offset":-249,"values":[0.5,1,1.5,2,2.5],"tickSize":7,"labels":false,"domain":false,"title":null}},
    "y":{"field":"y","type":"quantitative","scale":{"domain":[0,200],"nice":false},"axis":{"orient":"right","offset":-326,"values":[50,100,150],"tickSize":7,"labels":false,"domain":false,"title":null}},
    "color":{"field":"s","type":"nominal","scale":{"domain":["Gamma","Lognormal"],"range":["#0000ff","#ff0000"]},"legend":{"orient":"none","legendX":193,"legendY":18,"title":null,"labelOffset":8,"symbolType":"M-1.84,0H1.84","symbolSize":225,"symbolStrokeWidth":1.8,"rowPadding":8.7}}}}
 ]},
{"title":{"text":"c) spruce: CFD"},"width":316,"height":239,"resolve":{"axis":{"x":"independent","y":"independent"}},
 "layer":[
  {"data":{"name":"cLine"},"mark":{"type":"line","strokeWidth":2.5,"interpolate":"monotone"},
   "encoding":{
    "x":{"field":"x","type":"quantitative","scale":{"domain":[0,3],"nice":false},"axis":{"values":[0,1,2,3],"format":"d","tickSize":7,"labelPadding":18,"title":"charring rate (mm/min)","titleX":168,"titleY":72,"titleBaseline":"alphabetic","titleAlign":"center"}},
    "y":{"field":"y","type":"quantitative","scale":{"domain":[0,100],"nice":false},"axis":{"values":[0,20,40,60,80,100],"labelExpr":"datum.value + '\u2002%'","tickSize":7,"labelPadding":14,"title":"CFD","titleAngle":270,"titleX":-88,"titleY":148,"titleBaseline":"alphabetic","titleAlign":"center"}},
    "stroke":{"field":"s","type":"nominal","scale":{"domain":["Gamma","Lognormal"],"range":["#0000ff","#ff0000"]},"legend":null}}},
  {"data":{"name":"cMC"},"mark":{"type":"point","filled":false,"size":225,"opacity":1},
   "encoding":{
    "x":{"field":"x","type":"quantitative","scale":{"domain":[0,3],"nice":false},"axis":{"orient":"top","offset":-239,"values":[0.5,1,1.5,2,2.5],"tickSize":7,"labels":false,"domain":false,"title":null}},
    "y":{"field":"y","type":"quantitative","scale":{"domain":[0,100],"nice":false},"axis":{"orient":"right","offset":-316,"values":[10,20,30,40,50,60,70,80,90],"tickSize":7,"labels":false,"domain":false,"title":null}},
    "color":{"field":"s","type":"nominal","scale":{"domain":["Monte Carlo","Gamma","Lognormal"],"range":["#000000","#0000ff","#ff0000"]},"legend":{"orient":"none","legendX":172,"legendY":106.5,"title":null,"labelOffset":9.5,"symbolSize":225,"rowPadding":8.7}},
    "shape":{"field":"s","type":"nominal","scale":{"domain":["Monte Carlo","Gamma","Lognormal"],"range":["M-0.4,0L0,-0.4L0.4,0L0,0.4Z","M-2,0H2","M-2,0H2"]},"legend":{"orient":"none","legendX":172,"legendY":106.5,"title":null,"labelOffset":9.5,"symbolSize":225,"rowPadding":8.7}},
    "strokeWidth":{"field":"s","type":"nominal","scale":{"domain":["Monte Carlo","Gamma","Lognormal"],"range":[1.5,2.7,2.7]},"legend":{"orient":"none","legendX":172,"legendY":106.5,"title":null,"labelOffset":9.5,"symbolSize":225,"rowPadding":8.7}}}}
 ]},
{"title":{"text":"d) spruce: probability density"},"width":326,"height":249,"resolve":{"axis":{"x":"independent","y":"independent"}},
 "layer":[
  {"data":{"name":"dG"},"mark":{"type":"line","strokeWidth":2,"interpolate":"monotone"},
   "encoding":{
    "x":{"field":"x","type":"quantitative","scale":{"domain":[0,3],"nice":false},"axis":{"values":[0,1,2,3],"format":"d","tickSize":7,"labelPadding":21,"title":"charring rate (mm/min)","titleX":174,"titleY":73,"titleBaseline":"alphabetic","titleAlign":"center"}},
    "y":{"field":"y","type":"quantitative","scale":{"domain":[0,200],"nice":false},"axis":{"values":[0,50,100,150,200],"labelExpr":"datum.value + '\u2002%'","tickSize":7,"labelPadding":14,"title":"probability density","titleFontSize":22,"titleAngle":270,"titleX":-92,"titleY":136,"titleBaseline":"alphabetic","titleAlign":"center"}},
    "color":{"field":"s","type":"nominal","scale":{"domain":["Gamma","Lognormal"],"range":["#0000ff","#ff0000"]},"legend":{"orient":"none","legendX":193,"legendY":18,"title":null,"labelOffset":8,"symbolType":"M-1.84,0H1.84","symbolSize":225,"symbolStrokeWidth":1.8,"rowPadding":8.7}}}},
  {"data":{"name":"dL"},"mark":{"type":"line","strokeWidth":2,"interpolate":"monotone"},
   "encoding":{
    "x":{"field":"x","type":"quantitative","scale":{"domain":[0,3],"nice":false},"axis":{"orient":"top","offset":-249,"values":[0.5,1,1.5,2,2.5],"tickSize":7,"labels":false,"domain":false,"title":null}},
    "y":{"field":"y","type":"quantitative","scale":{"domain":[0,200],"nice":false},"axis":{"orient":"right","offset":-326,"values":[50,100,150],"tickSize":7,"labels":false,"domain":false,"title":null}},
    "color":{"field":"s","type":"nominal","scale":{"domain":["Gamma","Lognormal"],"range":["#0000ff","#ff0000"]},"legend":{"orient":"none","legendX":193,"legendY":18,"title":null,"labelOffset":8,"symbolType":"M-1.84,0H1.84","symbolSize":225,"symbolStrokeWidth":1.8,"rowPadding":8.7}}}}
 ]},
{"title":{"text":"e) pine: CFD"},"width":316,"height":239,"resolve":{"axis":{"x":"independent","y":"independent"}},
 "layer":[
  {"data":{"name":"eLine"},"mark":{"type":"line","strokeWidth":2.5,"interpolate":"monotone"},
   "encoding":{
    "x":{"field":"x","type":"quantitative","scale":{"domain":[0,3],"nice":false},"axis":{"values":[0,1,2,3],"format":"d","tickSize":7,"labelPadding":18,"title":"charring rate (mm/min)","titleX":168,"titleY":72,"titleBaseline":"alphabetic","titleAlign":"center"}},
    "y":{"field":"y","type":"quantitative","scale":{"domain":[0,100],"nice":false},"axis":{"values":[0,20,40,60,80,100],"labelExpr":"datum.value + '\u2002%'","tickSize":7,"labelPadding":14,"title":"CFD","titleAngle":270,"titleX":-88,"titleY":148,"titleBaseline":"alphabetic","titleAlign":"center"}},
    "stroke":{"field":"s","type":"nominal","scale":{"domain":["Gamma","Lognormal"],"range":["#0000ff","#ff0000"]},"legend":null}}},
  {"data":{"name":"eMC"},"mark":{"type":"point","filled":false,"size":225,"opacity":1},
   "encoding":{
    "x":{"field":"x","type":"quantitative","scale":{"domain":[0,3],"nice":false},"axis":{"orient":"top","offset":-239,"values":[0.5,1,1.5,2,2.5],"tickSize":7,"labels":false,"domain":false,"title":null}},
    "y":{"field":"y","type":"quantitative","scale":{"domain":[0,100],"nice":false},"axis":{"orient":"right","offset":-316,"values":[10,20,30,40,50,60,70,80,90],"tickSize":7,"labels":false,"domain":false,"title":null}},
    "color":{"field":"s","type":"nominal","scale":{"domain":["Monte Carlo","Gamma","Lognormal"],"range":["#000000","#0000ff","#ff0000"]},"legend":{"orient":"none","legendX":172,"legendY":106.5,"title":null,"labelOffset":9.5,"symbolSize":225,"rowPadding":8.7}},
    "shape":{"field":"s","type":"nominal","scale":{"domain":["Monte Carlo","Gamma","Lognormal"],"range":["M-0.4,0L0,-0.4L0.4,0L0,0.4Z","M-2,0H2","M-2,0H2"]},"legend":{"orient":"none","legendX":172,"legendY":106.5,"title":null,"labelOffset":9.5,"symbolSize":225,"rowPadding":8.7}},
    "strokeWidth":{"field":"s","type":"nominal","scale":{"domain":["Monte Carlo","Gamma","Lognormal"],"range":[1.5,2.7,2.7]},"legend":{"orient":"none","legendX":172,"legendY":106.5,"title":null,"labelOffset":9.5,"symbolSize":225,"rowPadding":8.7}}}}
 ]},
{"title":{"text":"f) pine: probability density"},"width":326,"height":249,"resolve":{"axis":{"x":"independent","y":"independent"}},
 "layer":[
  {"data":{"name":"fG"},"mark":{"type":"line","strokeWidth":2,"interpolate":"monotone"},
   "encoding":{
    "x":{"field":"x","type":"quantitative","scale":{"domain":[0,3],"nice":false},"axis":{"values":[0,1,2,3],"format":"d","tickSize":7,"labelPadding":21,"title":"charring rate (mm/min)","titleX":174,"titleY":73,"titleBaseline":"alphabetic","titleAlign":"center"}},
    "y":{"field":"y","type":"quantitative","scale":{"domain":[0,200],"nice":false},"axis":{"values":[0,50,100,150,200],"labelExpr":"datum.value + '\u2002%'","tickSize":7,"labelPadding":14,"title":"probability density","titleFontSize":22,"titleAngle":270,"titleX":-92,"titleY":136,"titleBaseline":"alphabetic","titleAlign":"center"}},
    "color":{"field":"s","type":"nominal","scale":{"domain":["Gamma","Lognormal"],"range":["#0000ff","#ff0000"]},"legend":{"orient":"none","legendX":193,"legendY":18,"title":null,"labelOffset":8,"symbolType":"M-1.84,0H1.84","symbolSize":225,"symbolStrokeWidth":1.8,"rowPadding":8.7}}}},
  {"data":{"name":"fL"},"mark":{"type":"line","strokeWidth":2,"interpolate":"monotone"},
   "encoding":{
    "x":{"field":"x","type":"quantitative","scale":{"domain":[0,3],"nice":false},"axis":{"orient":"top","offset":-249,"values":[0.5,1,1.5,2,2.5],"tickSize":7,"labels":false,"domain":false,"title":null}},
    "y":{"field":"y","type":"quantitative","scale":{"domain":[0,200],"nice":false},"axis":{"orient":"right","offset":-326,"values":[50,100,150],"tickSize":7,"labels":false,"domain":false,"title":null}},
    "color":{"field":"s","type":"nominal","scale":{"domain":["Gamma","Lognormal"],"range":["#0000ff","#ff0000"]},"legend":{"orient":"none","legendX":193,"legendY":18,"title":null,"labelOffset":8,"symbolType":"M-1.84,0H1.84","symbolSize":225,"symbolStrokeWidth":1.8,"rowPadding":8.7}}}}
 ]},
{"title":{"text":"g) MDF: CFD"},"width":316,"height":239,"resolve":{"axis":{"x":"independent","y":"independent"}},
 "layer":[
  {"data":{"name":"gLine"},"mark":{"type":"line","strokeWidth":2.5,"interpolate":"monotone"},
   "encoding":{
    "x":{"field":"x","type":"quantitative","scale":{"domain":[0,3],"nice":false},"axis":{"values":[0,1,2,3],"format":"d","tickSize":7,"labelPadding":18,"title":"charring rate (mm/min)","titleX":168,"titleY":72,"titleBaseline":"alphabetic","titleAlign":"center"}},
    "y":{"field":"y","type":"quantitative","scale":{"domain":[0,100],"nice":false},"axis":{"values":[0,20,40,60,80,100],"labelExpr":"datum.value + '\u2002%'","tickSize":7,"labelPadding":14,"title":"CFD","titleAngle":270,"titleX":-88,"titleY":148,"titleBaseline":"alphabetic","titleAlign":"center"}},
    "stroke":{"field":"s","type":"nominal","scale":{"domain":["Gamma","Lognormal"],"range":["#0000ff","#ff0000"]},"legend":null}}},
  {"data":{"name":"gMC"},"mark":{"type":"point","filled":false,"size":225,"opacity":1},
   "encoding":{
    "x":{"field":"x","type":"quantitative","scale":{"domain":[0,3],"nice":false},"axis":{"orient":"top","offset":-239,"values":[0.5,1,1.5,2,2.5],"tickSize":7,"labels":false,"domain":false,"title":null}},
    "y":{"field":"y","type":"quantitative","scale":{"domain":[0,100],"nice":false},"axis":{"orient":"right","offset":-316,"values":[10,20,30,40,50,60,70,80,90],"tickSize":7,"labels":false,"domain":false,"title":null}},
    "color":{"field":"s","type":"nominal","scale":{"domain":["Monte Carlo","Gamma","Lognormal"],"range":["#000000","#0000ff","#ff0000"]},"legend":{"orient":"none","legendX":172,"legendY":106.5,"title":null,"labelOffset":9.5,"symbolSize":225,"rowPadding":8.7}},
    "shape":{"field":"s","type":"nominal","scale":{"domain":["Monte Carlo","Gamma","Lognormal"],"range":["M-0.4,0L0,-0.4L0.4,0L0,0.4Z","M-2,0H2","M-2,0H2"]},"legend":{"orient":"none","legendX":172,"legendY":106.5,"title":null,"labelOffset":9.5,"symbolSize":225,"rowPadding":8.7}},
    "strokeWidth":{"field":"s","type":"nominal","scale":{"domain":["Monte Carlo","Gamma","Lognormal"],"range":[1.5,2.7,2.7]},"legend":{"orient":"none","legendX":172,"legendY":106.5,"title":null,"labelOffset":9.5,"symbolSize":225,"rowPadding":8.7}}}}
 ]},
{"title":{"text":"h) MDF: probability density"},"width":326,"height":249,"resolve":{"axis":{"x":"independent","y":"independent"}},
 "layer":[
  {"data":{"name":"hG"},"mark":{"type":"line","strokeWidth":2,"interpolate":"monotone"},
   "encoding":{
    "x":{"field":"x","type":"quantitative","scale":{"domain":[0,3],"nice":false},"axis":{"values":[0,1,2,3],"format":"d","tickSize":7,"labelPadding":21,"title":"charring rate (mm/min)","titleX":174,"titleY":73,"titleBaseline":"alphabetic","titleAlign":"center"}},
    "y":{"field":"y","type":"quantitative","scale":{"domain":[0,200],"nice":false},"axis":{"values":[0,50,100,150,200],"labelExpr":"datum.value + '\u2002%'","tickSize":7,"labelPadding":14,"title":"probability density","titleFontSize":22,"titleAngle":270,"titleX":-92,"titleY":136,"titleBaseline":"alphabetic","titleAlign":"center"}},
    "color":{"field":"s","type":"nominal","scale":{"domain":["Gamma","Lognormal"],"range":["#0000ff","#ff0000"]},"legend":{"orient":"none","legendX":193,"legendY":18,"title":null,"labelOffset":8,"symbolType":"M-1.84,0H1.84","symbolSize":225,"symbolStrokeWidth":1.8,"rowPadding":8.7}}}},
  {"data":{"name":"hL"},"mark":{"type":"line","strokeWidth":2,"interpolate":"monotone"},
   "encoding":{
    "x":{"field":"x","type":"quantitative","scale":{"domain":[0,3],"nice":false},"axis":{"orient":"top","offset":-249,"values":[0.5,1,1.5,2,2.5],"tickSize":7,"labels":false,"domain":false,"title":null}},
    "y":{"field":"y","type":"quantitative","scale":{"domain":[0,200],"nice":false},"axis":{"orient":"right","offset":-326,"values":[50,100,150],"tickSize":7,"labels":false,"domain":false,"title":null}},
    "color":{"field":"s","type":"nominal","scale":{"domain":["Gamma","Lognormal"],"range":["#0000ff","#ff0000"]},"legend":{"orient":"none","legendX":193,"legendY":18,"title":null,"labelOffset":8,"symbolType":"M-1.84,0H1.84","symbolSize":225,"symbolStrokeWidth":1.8,"rowPadding":8.7}}}}
 ]}
]
}
